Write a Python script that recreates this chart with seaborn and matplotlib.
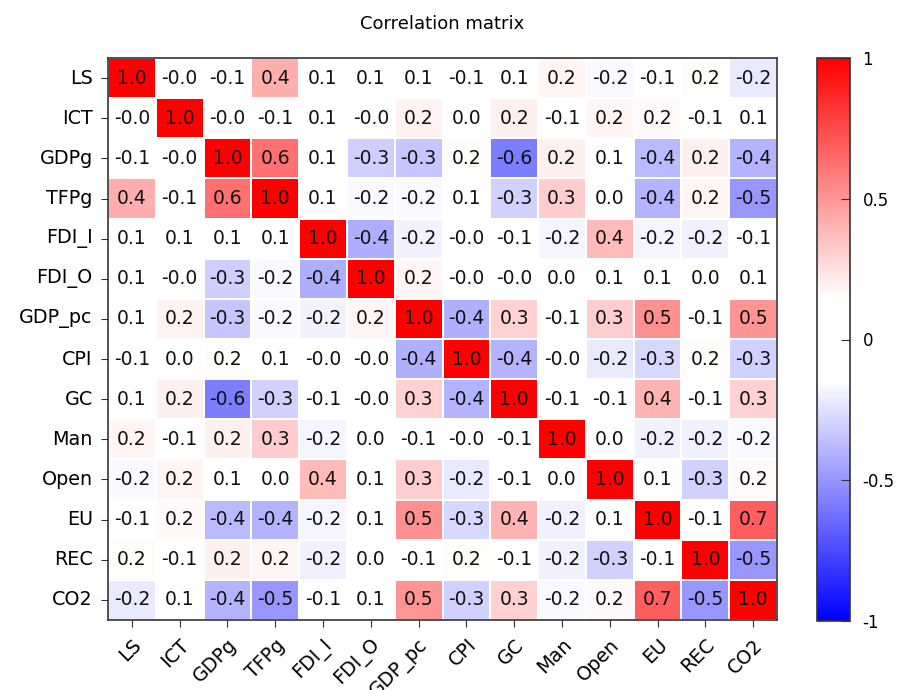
import numpy as np
import pandas as pd
import matplotlib
matplotlib.use("Agg")
import matplotlib.pyplot as plt
import seaborn as sns
from matplotlib.colors import LinearSegmentedColormap

variables = ["LS", "ICT", "GDPg", "TFPg", "FDI_I", "FDI_O", "GDP_pc",
             "CPI", "GC", "Man", "Open", "EU", "REC", "CO2"]

# lower triangle of the correlation matrix (row i, columns 0..i-1)
lower = [
    [],
    [-0.02],
    [-0.08, -0.03],
    [0.42, -0.06, 0.62],
    [0.08, 0.07, 0.06, 0.09],
    [0.07, -0.02, -0.31, -0.17, -0.42],
    [0.08, 0.19, -0.34, -0.17, -0.19, 0.18],
    [-0.08, 0.02, 0.16, 0.10, -0.03, -0.02, -0.41],
    [0.06, 0.20, -0.58, -0.30, -0.10, -0.02, 0.30, -0.40],
    [0.18, -0.07, 0.20, 0.32, -0.18, 0.02, -0.07, -0.03, -0.10],
    [-0.17, 0.18, 0.07, 0.03, 0.38, 0.07, 0.32, -0.22, -0.10, 0.02],
    [-0.10, 0.17, -0.38, -0.40, -0.18, 0.08, 0.52, -0.28, 0.40, -0.20, 0.10],
    [0.16, -0.08, 0.20, 0.18, -0.20, 0.03, -0.10, 0.16, -0.10, -0.20, -0.30, -0.10],
    [-0.22, 0.08, -0.40, -0.50, -0.10, 0.08, 0.50, -0.30, 0.30, -0.17, 0.17, 0.68, -0.50],
]

n = len(variables)
corr = np.eye(n)
for i, row in enumerate(lower):
    for j, v in enumerate(row):
        corr[i, j] = v
        corr[j, i] = v
df = pd.DataFrame(corr, index=variables, columns=variables)

# blue-white-red with a white band around zero
cmap = LinearSegmentedColormap.from_list(
    "bwr_band", [(0.0, "blue"), (0.425, "white"), (0.575, "white"), (1.0, "red")])

fig = plt.figure(figsize=(9.05, 6.9), dpi=100)
ax = fig.add_axes([108 / 905, 1 - 620 / 690, 669 / 905, 562 / 690])
cax = fig.add_axes([817 / 905, 1 - 621 / 690, 33 / 905, 563 / 690])

sns.heatmap(df, ax=ax, cbar_ax=cax, cmap=cmap, vmin=-1, vmax=1,
            annot=True, fmt=".1f", linewidths=1.2, linecolor="white",
            annot_kws={"color": "#111111", "fontsize": 13.5})

for s in ax.spines.values():
    s.set_visible(True)
    s.set_color("#333333")
    s.set_linewidth(1.2)

ax.tick_params(axis="both", length=5, color="#333333", labelsize=13.8, pad=6)
ax.set_xticklabels(ax.get_xticklabels(), rotation=45, ha="right",
                   rotation_mode="anchor")
ax.set_yticklabels(ax.get_yticklabels(), rotation=0)
ax.set_xlabel("")
ax.set_ylabel("")
ax.set_title("Correlation matrix", fontsize=13, pad=21)

cb = ax.collections[0].colorbar
cb.set_ticks([-1, -0.5, 0, 0.5, 1])
cb.set_ticklabels(["-1", "-0.5", "0", "0.5", "1"])
cb.outline.set_visible(True)
cb.outline.set_edgecolor("#333333")
cb.outline.set_linewidth(1.2)
cax.tick_params(direction="in", length=6.5, labelsize=12, pad=9, color="#333333")

fig.savefig("out.png", dpi=100)
